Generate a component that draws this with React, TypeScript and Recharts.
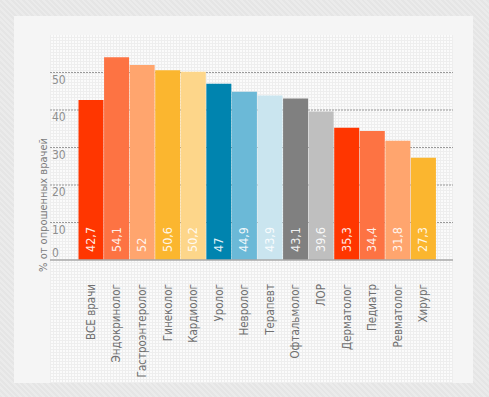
import { BarChart, Bar, XAxis, YAxis, CartesianGrid, Cell, LabelList } from "recharts"

const categories = [
  "ВСЕ врачи",
  "Эндокринолог",
  "Гастроэнтеролог",
  "Гинеколог",
  "Кардиолог",
  "Уролог",
  "Невролог",
  "Терапевт",
  "Офтальмолог",
  "ЛОР",
  "Дерматолог",
  "Педиатр",
  "Ревматолог",
  "Хирург",
]
const values = [42.7, 54.1, 52, 50.6, 50.2, 47, 44.9, 43.9, 43.1, 39.6, 35.3, 34.4, 31.8, 27.3]
const colors = [
  "#ff3600",
  "#fd7343",
  "#ffa56e",
  "#fbb62f",
  "#fdd68a",
  "#0084af",
  "#6bb9d7",
  "#cae5ef",
  "#808080",
  "#bfbfbf",
  "#ff3600",
  "#fd7343",
  "#ffa56e",
  "#fbb62f",
]
const yTicks = [0, 10, 20, 30, 40, 50]
const gridValues = [10, 20, 30, 40, 50]

const FONT = "'DejaVu Sans Condensed', 'Liberation Sans Narrow', sans-serif"

const chartData = categories.map((name, i) => ({ name, value: values[i] }))

const fmt = (v: number) => String(v).replace(".", ",")

function YTick(props: any) {
  const { y, payload } = props
  return (
    <text x={52} y={y} dy={payload.value === 0 ? -3 : 11} fill="#8f8f8f" fontSize={12} fontFamily={FONT}>
      {payload.value}
    </text>
  )
}

function XTick(props: any) {
  const { x, y, payload } = props
  return (
    <text
      x={x}
      y={y}
      transform={`rotate(-90, ${x}, ${y + 8})`}
      dx={-8}
      dy={12}
      textAnchor="end"
      fill="#707070"
      fontSize={11.5}
      fontFamily={FONT}
    >
      {payload.value}
    </text>
  )
}

function ValueLabel(props: any) {
  const { x, y, width, height, value } = props
  const cx = x + width / 2
  const by = y + height - 8
  return (
    <text
      x={cx}
      y={by}
      transform={`rotate(-90, ${cx}, ${by})`}
      dy={4}
      textAnchor="start"
      fill="#ffffff"
      fillOpacity={0.9}
      fontSize={12.5}
      fontFamily={FONT}
    >
      {fmt(value)}
    </text>
  )
}

export default function App() {
  return (
    <div
      style={{
        position: "absolute",
        left: 0,
        top: 0,
        width: 489,
        height: 397,
        background: "repeating-linear-gradient(45deg, #e5e5e5 0px, #e5e5e5 2px, #ebebeb 2px, #ebebeb 4px)",
      }}
    >
      <div style={{ position: "absolute", left: 14, top: 16, width: 459, height: 367, background: "#f5f5f5" }} />
      <div
        style={{
          position: "absolute",
          left: 50,
          top: 35,
          width: 403,
          height: 348,
          backgroundColor: "#fbfbfb",
          backgroundImage:
            "repeating-linear-gradient(0deg, #eeeeee 0px, #eeeeee 1px, transparent 1px, transparent 3px), repeating-linear-gradient(90deg, #eeeeee 0px, #eeeeee 1px, transparent 1px, transparent 3px)",
        }}
      />
      <div style={{ position: "absolute", left: 0, top: 0 }}>
        <BarChart
          width={489}
          height={397}
          data={chartData}
          margin={{ top: 35, right: 36, left: 0, bottom: 107 }}
          barCategoryGap={0.5}
        >
          <CartesianGrid
            vertical={false}
            horizontalValues={gridValues}
            stroke="#9a9a9a"
            strokeDasharray="2 1"
          />
          <YAxis
            width={50}
            domain={[0, 60]}
            ticks={yTicks}
            axisLine={false}
            tickLine={false}
            tick={<YTick />}
            label={{
              content: () => (
                <text
                  x={43}
                  y={205}
                  transform="rotate(-90, 43, 205)"
                  textAnchor="middle"
                  dy={4}
                  fill="#7a7a7a"
                  fontSize={11}
                  fontFamily={FONT}
                >
                  % от опрошенных врачей
                </text>
              ),
            }}
          />
          <XAxis
            dataKey="name"
            height={30}
            interval={0}
            padding={{ left: 28, right: 17 }}
            axisLine={{ stroke: "#a8a8a8", strokeWidth: 1.5 }}
            tickLine={false}
            tick={<XTick />}
          />
          <Bar dataKey="value" isAnimationActive={false}>
            {chartData.map((d, i) => (
              <Cell key={d.name} fill={colors[i]} />
            ))}
            <LabelList dataKey="value" content={<ValueLabel />} />
          </Bar>
        </BarChart>
      </div>
    </div>
  )
}
